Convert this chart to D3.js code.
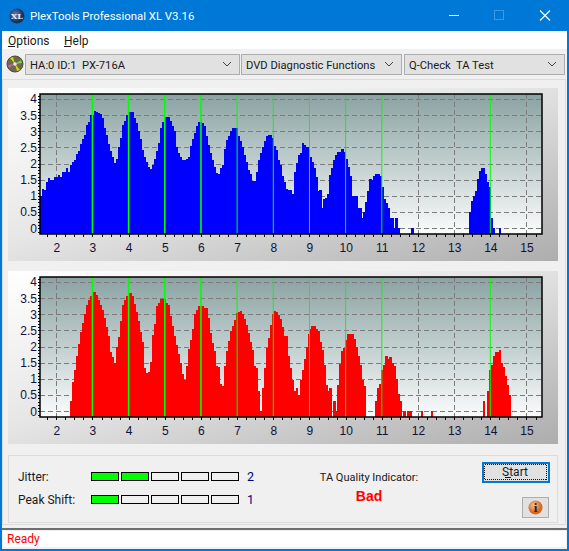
<!DOCTYPE html>
<html>
<head>
<meta charset="utf-8">
<title>PlexTools Professional XL V3.16</title>
<script src="https://cdn.jsdelivr.net/npm/d3@7"></script>
<style>
  html, body { margin: 0; padding: 0; background: #f0f0f0; overflow: hidden; }
  svg { display: block; }
  text { font-family: Roboto, "Liberation Sans", sans-serif; font-size: 12px; fill: #1a1a1a; }
  .axis text { font-family: "Liberation Sans", Arial, sans-serif; font-size: 12px; fill: #10103a; }
  .axis path, .axis line { stroke: #000; shape-rendering: crispEdges; }
</style>
</head>
<body>
<script>
// values, one per histogram bin, _ = nothing drawn
var _ = null;

var blueValues = [
  1.0,1.22,1.2,1.42,1.55,1.5,1.5,1.6,1.6,1.65,
  1.6,1.75,1.75,1.85,1.75,1.95,2.05,2.1,2.3,2.4,
  2.6,2.75,2.9,3.2,3.3,3.5,3.5,3.63,3.6,3.58,
  3.53,3.4,3.1,2.9,2.62,2.4,2.2,2.03,2.15,2.5,
  2.8,3.2,3.33,3.5,3.6,3.6,3.6,3.42,3.25,3.0,
  2.75,2.42,2.2,2.05,1.9,1.83,1.95,2.15,2.4,2.63,
  3.1,3.28,3.43,3.44,3.43,3.32,3.18,3.0,2.5,2.32,
  2.2,2.12,2.1,2.15,2.2,2.55,2.75,2.94,3.17,3.28,
  3.28,3.26,3.17,2.84,2.58,2.32,2.1,1.9,1.7,1.67,
  1.85,1.95,2.45,2.73,2.87,3.0,3.09,3.09,3.09,2.87,
  2.7,2.53,2.27,2.04,1.8,1.68,1.45,1.46,1.73,2.1,
  2.32,2.5,2.7,2.84,2.88,2.88,2.78,2.55,2.42,2.1,
  1.95,1.63,1.44,1.22,1.18,1.18,1.06,1.73,2.02,2.27,
  2.33,2.63,2.58,2.53,2.53,2.2,2.04,1.85,1.6,1.15,
  1.2,0.62,0.9,0.95,1.05,1.65,1.85,2.1,2.27,2.35,
  2.35,2.45,2.35,2.14,1.9,1.63,1.0,1.0,1.0,0.62,
  0.62,0.33,0.5,0.8,1.15,1.52,1.5,1.63,1.67,1.67,
  1.63,1.28,0.9,0.77,0.62,0.33,0.33,0,0.33,0,
  _,_,_,_,_,_,0,_,_,_,
  _,_,_,_,_,_,_,_,_,_,
  _,_,_,_,_,_,_,_,_,_,
  _,_,_,_,_,0.5,0.85,1.0,1.15,1.52,
  1.77,1.85,1.85,1.67,1.44,1.28,0.33,0,_,_,
  0,_,_,_,_,_,_,_,_,_,
  _,_,_,_,_,_,_,_,_,_,
  _
];

var redValues = [
  _,_,_,_,_,_,_,_,_,_,
  _,_,_,_,_,0.31,0.9,1.28,1.7,2.08,
  2.44,2.73,3.0,3.28,3.43,3.57,3.7,3.7,3.6,3.43,
  3.28,3.12,2.88,2.6,2.32,1.83,1.67,1.5,2.0,2.29,
  2.78,3.28,3.43,3.57,3.65,3.65,3.57,3.32,3.07,2.78,
  2.44,2.14,1.34,1.19,1.22,1.53,2.37,2.7,3.25,3.35,
  3.47,3.47,3.47,3.35,3.28,2.96,2.63,2.32,2.04,1.77,
  1.5,1.15,0.98,1.39,1.93,2.2,2.55,3.0,3.12,3.25,
  3.26,3.26,3.2,3.2,2.88,2.42,2.1,1.85,1.39,1.37,
  0.83,0.77,1.39,1.85,2.16,2.48,2.65,2.82,3.05,3.08,
  3.1,3.0,2.84,2.68,2.42,2.14,1.9,1.39,1.34,0.64,
  0,0.72,1.34,1.96,2.27,2.67,3.0,3.1,3.07,2.98,
  2.84,2.6,2.33,2.32,1.7,1.34,0.98,0.64,0.72,0.5,
  0.98,1.29,1.63,1.98,2.4,2.55,2.63,2.63,2.55,2.47,
  2.14,1.9,1.44,0.8,0.64,0.72,_,0.31,0,0.82,
  1.46,1.85,1.96,2.2,2.39,2.39,2.39,2.25,2.0,1.7,
  1.44,0.98,0.77,_,_,_,_,_,0.31,0.72,
  0.85,1.29,1.42,1.7,1.63,1.67,1.5,1.4,1.0,0.52,
  0.31,_,0,_,0,0,_,_,_,_,
  _,0,_,_,_,_,0,_,_,_,
  _,_,_,_,_,_,_,_,_,_,
  _,_,_,_,_,_,_,_,_,_,
  _,_,0.31,_,0.64,1.29,1.42,1.7,1.82,1.82,
  1.9,1.5,1.38,1.08,0.82,0.5,_,_,_,_,
  _,_,_,_,_,_,_,_,_,_,
  _,_,_,_,_,_,_,_,_,_,
  _
];

var xTicks = [2, 3, 4, 5, 6, 7, 8, 9, 10, 11, 12, 13, 14, 15];
var xMinorTicks = [1.75, 2, 2.25, 2.5, 2.75, 3, 3.25, 3.5, 3.75, 4, 4.25, 4.5, 4.75, 5, 5.25, 5.5, 5.75, 6, 6.25, 6.5, 6.75, 7, 7.25, 7.5, 7.75, 8, 8.25, 8.5, 8.75, 9, 9.25, 9.5, 9.75, 10, 10.25, 10.5, 10.75, 11, 11.25, 11.5, 11.75, 12, 12.25, 12.5, 12.75, 13, 13.25, 13.5, 13.75, 14, 14.25, 14.5, 14.75, 15, 15.25];
var yTicks = [0, 0.5, 1, 1.5, 2, 2.5, 3, 3.5, 4];
var yMinorTicks = [-0.1, 0, 0.1, 0.2, 0.3, 0.4, 0.5, 0.6, 0.7, 0.8, 0.9, 1, 1.1, 1.2, 1.3, 1.4, 1.5, 1.6, 1.7, 1.8, 1.9, 2, 2.1, 2.2, 2.3, 2.4, 2.5, 2.6, 2.7, 2.8, 2.9, 3, 3.1, 3.2, 3.3, 3.4, 3.5, 3.6, 3.7, 3.8, 3.9, 4, 4.1];
var greenLines = [3, 4, 5, 6, 7, 8, 9, 10, 11, 14];
var greyLines = [2, 12, 13, 15];
var binStart = 1.549;
var binWidth = 0.0552;

var jitterScore = 2;
var peakShiftScore = 1;
var scoreSlots = [1, 2, 3, 4, 5];

var width = 569;
var height = 551;

var svg = d3.select('body').append('svg')
  .attr('width', width)
  .attr('height', height);

var defs = svg.append('defs');

function gradient(id, x2, y2, stops) {
  var g = defs.append('linearGradient').attr('id', id)
    .attr('x1', 0).attr('y1', 0).attr('x2', x2).attr('y2', y2);
  stops.forEach(function (s) {
    g.append('stop').attr('offset', s[0]).attr('stop-color', s[1]);
  });
}
gradient('panelBg', 1, 1, [[0, '#ffffff'], [0.45, '#e6e6e6'], [1, '#adadad']]);
gradient('plotBg', 0, 1, [[0, '#8ba2a2'], [0.5, '#c2cfcf'], [1, '#fbfcfc']]);

var ballGrad = defs.append('radialGradient').attr('id', 'ball').attr('cx', 0.4).attr('cy', 0.35);
ballGrad.append('stop').attr('offset', 0).attr('stop-color', '#f7c79c');
ballGrad.append('stop').attr('offset', 1).attr('stop-color', '#d9661f');
var logoGrad = defs.append('radialGradient').attr('id', 'logo').attr('cx', 0.4).attr('cy', 0.4);
logoGrad.append('stop').attr('offset', 0).attr('stop-color', '#6b7fa8');
logoGrad.append('stop').attr('offset', 1).attr('stop-color', '#14305f');

// window chrome
function box(x, y, w, h, fill, stroke) {
  return svg.append('rect')
    .attr('x', x).attr('y', y).attr('width', w).attr('height', h)
    .attr('fill', fill)
    .attr('stroke', stroke || 'none')
    .attr('shape-rendering', 'crispEdges');
}
function label(x, y, s, color, anchor) {
  return svg.append('text')
    .attr('x', x).attr('y', y)
    .attr('text-anchor', anchor || 'start')
    .style('fill', color || '#1a1a1a')
    .text(s);
}

box(0, 0, width, height, '#0078d7');
box(2, 31, 565, 518, '#f0f0f0');
box(2, 31, 565, 18, '#ffffff');

// title bar
svg.append('circle').attr('cx', 17).attr('cy', 16).attr('r', 7.5).attr('fill', 'url(#logo)');
label(17, 19, 'XL', '#e8ecf4', 'middle').style('font-family', '"DejaVu Serif", serif').style('font-size', '8px').style('font-weight', 'bold');
label(30, 20, 'PlexTools Professional XL V3.16', '#ffffff').style('font-size', '11.4px');
box(449, 15, 10, 1, '#ffffff');
box(494.5, 10.5, 9, 9, 'none', '#3f97e3');
svg.append('path').attr('d', 'M540 10.5 L550 20.5 M550 10.5 L540 20.5').attr('stroke', '#fff').attr('stroke-width', 1.1);

// menu
label(8, 45, 'Options');
label(64, 45, 'Help');
box(8, 46, 7, 1, '#1a1a1a');
box(64, 46, 7, 1, '#1a1a1a');

// toolbar
svg.append('circle').attr('cx', 15).attr('cy', 64).attr('r', 8).attr('fill', '#6d6a45').attr('stroke', '#4b4a32');
svg.append('path').attr('d', 'M15 64 L10 58 L13 57 Z').attr('fill', '#d6d61e');
svg.append('path').attr('d', 'M15 64 L20 70 L17 71 Z').attr('fill', '#d6d61e');
svg.append('path').attr('d', 'M15 64 L21 60 L22 63 Z').attr('fill', '#7bd14c');
svg.append('path').attr('d', 'M15 64 L9 68 L8 65 Z').attr('fill', '#c75bc7');
svg.append('circle').attr('cx', 15).attr('cy', 64).attr('r', 1.8).attr('fill', '#e8e8e8');

function combo(x, w, s) {
  box(x + 0.5, 54.5, w, 20, '#e1e1e1', '#adadad');
  label(x + 5, 69, s).style('font-size', '11.2px').style('white-space', 'pre');
  svg.append('path')
    .attr('d', 'M' + (x + w - 16) + ' 62 l4 4 l4 -4')
    .attr('fill', 'none').attr('stroke', '#444').attr('stroke-width', 1);
}
combo(25, 214, 'HA:0 ID:1  PX-716A');
combo(241, 160, 'DVD Diagnostic Functions');
combo(404, 160, 'Q-Check  TA Test');

box(2.5, 79.5, 563, 445, 'none', '#dcdcdc');

// charts
var plotLeft = 40;
var plotRight = 542;

var xScale = d3.scaleLinear()
  .domain([2, 14])
  .range([56.3, 490.3]);

function drawChart(top, values, color) {
  var plotTop = top + 6;
  var plotBottom = top + 146;

  svg.append('rect')
    .attr('x', 8).attr('y', top).attr('width', 550).attr('height', 173)
    .attr('fill', 'url(#panelBg)');

  svg.append('rect')
    .attr('x', plotLeft).attr('y', plotTop)
    .attr('width', plotRight - plotLeft).attr('height', plotBottom - plotTop)
    .attr('fill', 'url(#plotBg)');

  var yScale = d3.scaleLinear()
    .domain([0, 4])
    .range([top + 140.3, top + 11]);

  // grid
  svg.append('g').selectAll('line')
    .data(yTicks)
    .enter()
    .append('line')
    .attr('x1', plotLeft).attr('x2', plotRight)
    .attr('y1', function (d) { return Math.round(yScale(d)) + 0.5; })
    .attr('y2', function (d) { return Math.round(yScale(d)) + 0.5; })
    .attr('stroke', '#7c7c7c')
    .attr('stroke-width', 1)
    .attr('stroke-dasharray', '5,3');

  svg.append('g').selectAll('line')
    .data(greyLines)
    .enter()
    .append('line')
    .attr('x1', function (d) { return Math.round(xScale(d)) + 0.5; })
    .attr('x2', function (d) { return Math.round(xScale(d)) + 0.5; })
    .attr('y1', plotTop).attr('y2', plotBottom)
    .attr('stroke', '#7c7c7c')
    .attr('stroke-width', 1)
    .attr('stroke-dasharray', '5,3');

  // bars, one per bin, bins with no reading are skipped
  var bins = values
    .map(function (d, i) { return { bin: i, value: d }; })
    .filter(function (d) { return d.value !== null; });

  svg.append('g').selectAll('rect')
    .data(bins)
    .enter()
    .append('rect')
    .attr('x', function (d) { return xScale(binStart + d.bin * binWidth); })
    .attr('y', function (d) { return yScale(d.value); })
    .attr('width', xScale(binStart + binWidth) - xScale(binStart) + 0.2)
    .attr('height', function (d) { return plotBottom - yScale(d.value); })
    .attr('fill', color)
    .attr('shape-rendering', 'crispEdges');

  // green markers go over the bars
  svg.append('g').selectAll('line')
    .data(greenLines)
    .enter()
    .append('line')
    .attr('x1', function (d) { return xScale(d); })
    .attr('x2', function (d) { return xScale(d); })
    .attr('y1', plotTop).attr('y2', plotBottom)
    .attr('stroke', '#00ff00')
    .attr('stroke-width', function (d) { return d <= 6 ? 1.6 : 1; });

  // frame
  svg.append('path')
    .attr('d', 'M' + plotLeft + ' ' + plotTop + ' H' + plotRight + ' V' + plotBottom + ' H' + plotLeft + ' Z')
    .attr('fill', 'none')
    .attr('stroke', '#000')
    .attr('stroke-width', 1.5);

  var xMinor = d3.axisBottom(xScale).tickValues(xMinorTicks).tickSize(3).tickFormat('');
  svg.append('g').attr('class', 'axis')
    .attr('transform', 'translate(0,' + plotBottom + ')')
    .call(xMinor)
    .select('.domain').remove();

  var xAxis = d3.axisBottom(xScale).tickValues(xTicks).tickSize(0).tickPadding(9).tickFormat(d3.format('d'));
  svg.append('g').attr('class', 'axis')
    .attr('transform', 'translate(0,' + plotBottom + ')')
    .call(xAxis)
    .select('.domain').remove();

  // dense little ticks make the left edge look dotted
  var yMinor = d3.axisLeft(yScale).tickValues(yMinorTicks).tickSize(2).tickFormat('');
  svg.append('g').attr('class', 'axis')
    .attr('transform', 'translate(' + plotLeft + ',0)')
    .call(yMinor)
    .select('.domain').remove();

  var yAxis = d3.axisLeft(yScale).tickValues(yTicks).tickSize(2).tickPadding(1).tickFormat(d3.format('~g'));
  svg.append('g').attr('class', 'axis')
    .attr('transform', 'translate(' + plotLeft + ',0)')
    .call(yAxis)
    .select('.domain').remove();
}

drawChart(88, blueValues, '#0000ff');
drawChart(271, redValues, '#ff0000');

// bottom group box
box(8.5, 455.5, 549, 67, 'none', '#dcdcdc');

var slotScale = d3.scaleBand()
  .domain(scoreSlots)
  .range([91, 239])
  .paddingInner(2 / 30);

function scoreRow(y, name, score) {
  label(18, y + 9, name);
  svg.append('g').selectAll('rect')
    .data(scoreSlots)
    .enter()
    .append('rect')
    .attr('x', function (d) { return Math.round(slotScale(d)) + 0.5; })
    .attr('y', y + 0.5)
    .attr('width', Math.round(slotScale.bandwidth()) - 1)
    .attr('height', 8)
    .attr('fill', function (d) { return d <= score ? '#00ff00' : '#f0f0f0'; })
    .attr('stroke', '#000')
    .attr('stroke-width', 1)
    .attr('shape-rendering', 'crispEdges');
  label(247, y + 9, score, '#000080').style('font-size', '12.5px');
}
scoreRow(472, 'Jitter:', jitterScore);
scoreRow(495, 'Peak Shift:', peakShiftScore);

label(369, 481, 'TA Quality Indicator:', '#1a1a1a', 'middle').style('font-size', '11px');
label(369, 501, 'Bad', '#ff0000', 'middle')
  .style('font-family', '"Liberation Sans", Arial, sans-serif')
  .style('font-size', '14px').style('font-weight', 'bold');

// start button
box(482.5, 462.5, 66, 19, '#e1e1e1', '#0078d7').attr('stroke-width', 2);
box(484.5, 464.5, 62, 15, 'none', '#111').attr('stroke-dasharray', '1,1');
label(515, 476, 'Start', '#1a1a1a', 'middle');
box(505, 477, 6, 1, '#1a1a1a');

// info button
box(522.5, 497.5, 26, 20, '#e1e1e1', '#adadad');
svg.append('circle').attr('cx', 535.5).attr('cy', 507.5).attr('r', 7).attr('fill', 'url(#ball)');
label(535.5, 512, 'i', '#222', 'middle')
  .style('font-family', '"Liberation Serif", serif')
  .style('font-size', '13px').style('font-weight', 'bold');

// status bar
box(2, 528, 565, 2, '#6e6e6e');
box(3, 531, 563, 16, '#ffffff');
label(7, 543, 'Ready', '#ff0000');
</script>
</body>
</html>
